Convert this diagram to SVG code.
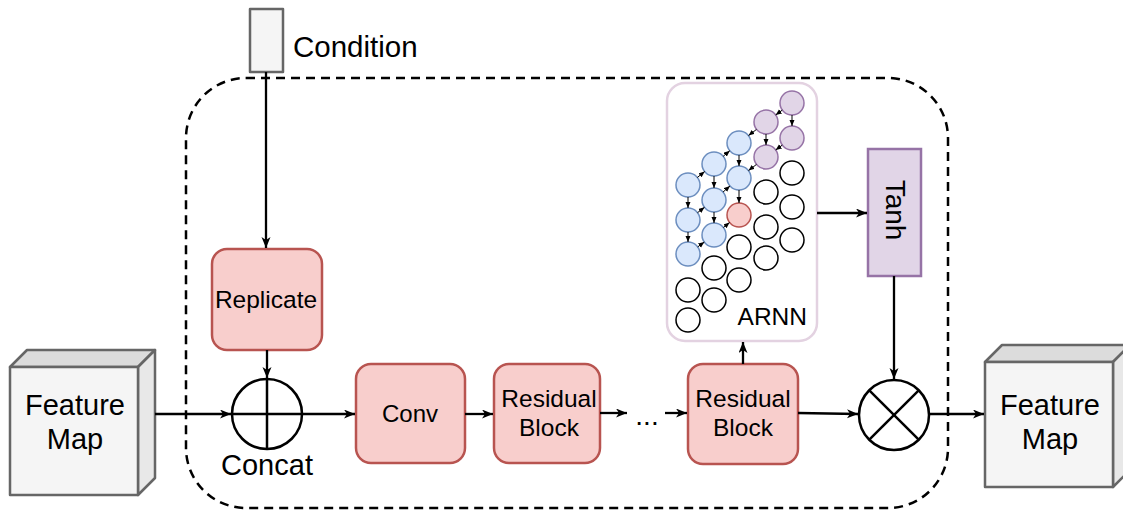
<svg xmlns="http://www.w3.org/2000/svg" width="1123" height="512" viewBox="0 0 1123 512">
<style>
text{font-family:"Liberation Sans",Arial,Helvetica,sans-serif;fill:#000}
.red{fill:#f8cecc;stroke:#b85450;stroke-width:2.5}
.cf{fill:#f5f5f5;stroke:#666;stroke-width:2.5;stroke-linejoin:round}
.ct{fill:#dcdcdc;stroke:#666;stroke-width:2.5;stroke-linejoin:round}
.cs{fill:#e8e8e8;stroke:#666;stroke-width:2.5;stroke-linejoin:round}
.op{fill:#fff;stroke:#000;stroke-width:2.5}
.conn line,.conn path{stroke:#000;stroke-width:2.3;fill:none;marker-end:url(#ah)}
.sm line{stroke:#000;stroke-width:1;marker-end:url(#sa)}
.b{fill:#dae8fc;stroke:#6c8ebf;stroke-width:1.5}
.p{fill:#e1d5e7;stroke:#9673a6;stroke-width:1.5}
.r{fill:#f8cecc;stroke:#b85450;stroke-width:1.5}
.e{fill:#fff;stroke:#000;stroke-width:1.5}
</style>
<defs>
<marker id="ah" markerUnits="userSpaceOnUse" markerWidth="12" markerHeight="10" refX="11" refY="4.5" orient="auto"><path d="M0,0 L11,4.5 L0,9 L3,4.5 z" fill="#000"/></marker>
<marker id="sa" markerUnits="userSpaceOnUse" markerWidth="7" markerHeight="6" refX="6" refY="2.5" orient="auto"><path d="M0,0 L6,2.5 L0,5 z" fill="#000"/></marker>
</defs>
<rect x="0" y="0" width="1123" height="512" fill="#fff"/>

<g id="module-border">
<rect x="186" y="78" width="762" height="430" rx="60" ry="60" fill="none" stroke="#000" stroke-width="2.5" stroke-dasharray="9 6"/>
</g>

<g id="condition">
<rect x="250" y="9" width="33" height="63" class="cf"/>
<text x="293" y="57" font-size="29.5">Condition</text>
</g>

<g id="feature-map-in">
<polygon points="10,367 27,350 155,350 138,367" class="ct"/>
<polygon points="138,367 155,350 155,478 138,495" class="cs"/>
<rect x="10" y="367" width="128" height="128" class="cf"/>
<text x="75" y="415" font-size="29" text-anchor="middle">Feature</text>
<text x="75" y="449" font-size="29" text-anchor="middle">Map</text>
</g>

<g id="feature-map-out">
<polygon points="985,362 1002,345 1130,345 1113,362" class="ct"/>
<polygon points="1113,362 1130,345 1130,470 1113,487" class="cs"/>
<rect x="985" y="362" width="128" height="125" class="cf"/>
<text x="1050" y="415" font-size="29" text-anchor="middle">Feature</text>
<text x="1050" y="449" font-size="29" text-anchor="middle">Map</text>
</g>

<g id="replicate">
<rect x="212" y="249" width="110" height="101" rx="15" class="red"/>
<text x="266" y="308" font-size="24.5" text-anchor="middle">Replicate</text>
</g>

<g id="concat">
<circle cx="267" cy="414" r="35" class="op"/>
<line x1="267" y1="379" x2="267" y2="449" stroke="#000" stroke-width="2.5"/>
<line x1="232" y1="414" x2="302" y2="414" stroke="#000" stroke-width="2.5"/>
<text x="267" y="475" font-size="29" text-anchor="middle">Concat</text>
</g>

<g id="conv">
<rect x="356" y="364" width="109" height="99" rx="15" class="red"/>
<text x="410" y="422" font-size="24" text-anchor="middle">Conv</text>
</g>

<g id="residual-1">
<rect x="494" y="364" width="106" height="99" rx="15" class="red"/>
<text x="549" y="407" font-size="24.5" text-anchor="middle">Residual</text>
<text x="549" y="436" font-size="24.5" text-anchor="middle">Block</text>
</g>

<g id="ellipsis">
<text x="647" y="425" font-size="28" text-anchor="middle">...</text>
</g>

<g id="residual-2">
<rect x="688" y="364" width="110" height="100" rx="15" class="red"/>
<text x="743" y="407" font-size="24.5" text-anchor="middle">Residual</text>
<text x="743" y="436" font-size="24.5" text-anchor="middle">Block</text>
</g>

<g id="arnn">
<rect x="667" y="83" width="150" height="258" rx="18" fill="#fff" stroke="#e3d2e1" stroke-width="2.5"/>
<circle cx="792" cy="103" r="12" class="p"/>
<circle cx="766" cy="122" r="12" class="p"/>
<circle cx="792" cy="138" r="12" class="p"/>
<circle cx="766" cy="157" r="12" class="p"/>
<circle cx="739" cy="143" r="12" class="b"/>
<circle cx="714" cy="164" r="12" class="b"/>
<circle cx="739" cy="178" r="12" class="b"/>
<circle cx="688" cy="185" r="12" class="b"/>
<circle cx="714" cy="200" r="12" class="b"/>
<circle cx="688" cy="220" r="12" class="b"/>
<circle cx="714" cy="235" r="12" class="b"/>
<circle cx="688" cy="254" r="12" class="b"/>
<circle cx="739" cy="215" r="12" class="r"/>
<circle cx="792" cy="173" r="12" class="e"/>
<circle cx="792" cy="207" r="12" class="e"/>
<circle cx="792" cy="240" r="12" class="e"/>
<circle cx="766" cy="192" r="12" class="e"/>
<circle cx="766" cy="227" r="12" class="e"/>
<circle cx="766" cy="258" r="12" class="e"/>
<circle cx="739" cy="247" r="12" class="e"/>
<circle cx="739" cy="280" r="12" class="e"/>
<circle cx="714" cy="268" r="12" class="e"/>
<circle cx="714" cy="300" r="12" class="e"/>
<circle cx="688" cy="290" r="12" class="e"/>
<circle cx="688" cy="320" r="12" class="e"/>
<g class="sm">
<line x1="792" y1="115" x2="792" y2="126"/>
<line x1="766" y1="134" x2="766" y2="145"/>
<line x1="739" y1="155" x2="739" y2="166"/>
<line x1="739" y1="190" x2="739" y2="203"/>
<line x1="714" y1="176" x2="714" y2="188"/>
<line x1="714" y1="212" x2="714" y2="223"/>
<line x1="688" y1="197" x2="688" y2="208"/>
<line x1="688" y1="232" x2="688" y2="242"/>
<line x1="782.3" y1="110.1" x2="775.7" y2="114.9"/>
<line x1="782.3" y1="145.1" x2="775.7" y2="149.9"/>
<line x1="756.5" y1="129.4" x2="748.5" y2="135.6"/>
<line x1="756.5" y1="164.4" x2="748.5" y2="170.6"/>
<line x1="697.3" y1="177.5" x2="704.7" y2="171.5"/>
<line x1="723.2" y1="156.3" x2="729.8" y2="150.7"/>
<line x1="697.5" y1="212.7" x2="704.5" y2="207.3"/>
<line x1="723" y1="192.1" x2="730" y2="185.9"/>
<line x1="697.7" y1="246.9" x2="704.3" y2="242.1"/>
<line x1="723.4" y1="227.5" x2="729.6" y2="222.5"/>
</g>
<text x="807" y="325" font-size="24.5" text-anchor="end">ARNN</text>
</g>

<g id="tanh">
<rect x="868" y="149" width="53" height="127" fill="#e1d5e7" stroke="#9673a6" stroke-width="2.5"/>
<text transform="translate(886,210) rotate(90)" font-size="28" text-anchor="middle">Tanh</text>
</g>

<g id="multiply">
<circle cx="894" cy="415" r="35" class="op"/>
<line x1="869.3" y1="390.3" x2="918.7" y2="439.7" stroke="#000" stroke-width="2.5"/>
<line x1="918.7" y1="390.3" x2="869.3" y2="439.7" stroke="#000" stroke-width="2.5"/>
</g>

<g id="connectors" class="conn">
<line x1="266" y1="72" x2="266" y2="248"/>
<line x1="267" y1="350" x2="267" y2="378"/>
<line x1="155" y1="414" x2="231" y2="414"/>
<line x1="302" y1="414" x2="355" y2="414"/>
<line x1="465" y1="414" x2="493" y2="414"/>
<line x1="600" y1="413" x2="627" y2="413"/>
<line x1="665" y1="413" x2="687" y2="413"/>
<line x1="743" y1="364" x2="743" y2="342"/>
<line x1="798" y1="413" x2="858" y2="414"/>
<line x1="817" y1="213" x2="867" y2="213"/>
<line x1="894" y1="276" x2="894" y2="379"/>
<line x1="929" y1="414" x2="984" y2="414"/>
</g>
</svg>
